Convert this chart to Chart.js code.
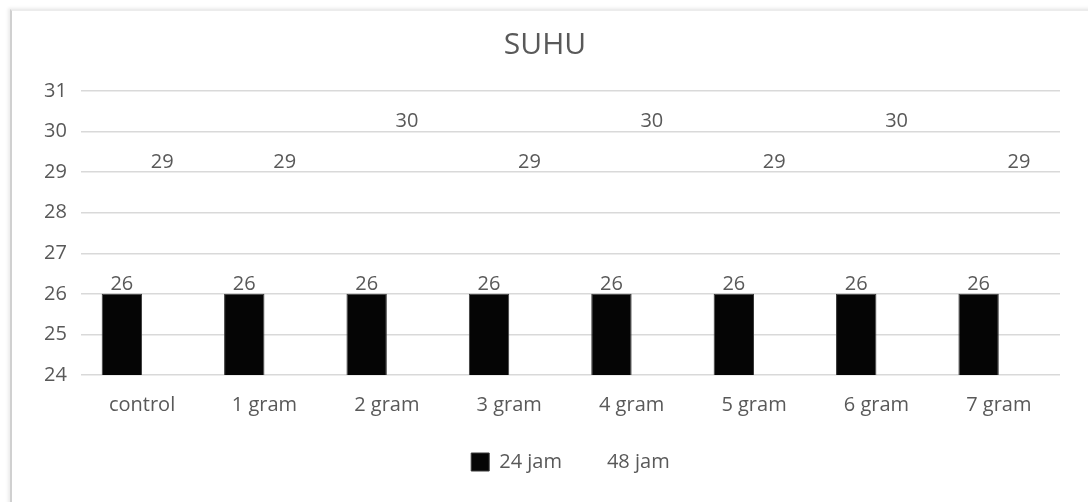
<!DOCTYPE html>
<html>
<head>
<meta charset="utf-8">
<script src="https://cdn.jsdelivr.net/npm/chart.js@4.4.1/dist/chart.umd.min.js"></script>
<style>
  html, body { margin: 0; padding: 0; background: #ffffff; }
  #frame {
    position: absolute; left: 10px; top: 9px; width: 1100px; height: 520px;
    border-left: 2px solid #d0d0d0; border-top: 2px solid #ececec;
    box-shadow: -2px -1px 3px rgba(0,0,0,0.08);
  }
  #wrap { position: absolute; left: 0; top: 0; width: 1088px; height: 502px; }
</style>
</head>
<body>
<div id="frame"></div>
<div id="wrap"><canvas id="c" width="1088" height="502"></canvas></div>
<script>
const categories = ['control', '1 gram', '2 gram', '3 gram', '4 gram', '5 gram', '6 gram', '7 gram'];
const jam24 = [26, 26, 26, 26, 26, 26, 26, 26];
const jam48 = [29, 29, 30, 29, 30, 29, 30, 29];
const yTicks = [24, 25, 26, 27, 28, 29, 30, 31];

const textColor = '#595959';
const fontFamily = "'Open Sans', 'Noto Sans', sans-serif";

// Writes each bar's value just above its top edge
const valueLabels = {
  id: 'valueLabels',
  afterDatasetsDraw(chart) {
    const ctx = chart.ctx;
    ctx.save();
    ctx.fillStyle = textColor;
    ctx.font = '20px ' + fontFamily;
    ctx.textAlign = 'center';
    ctx.textBaseline = 'bottom';
    chart.data.datasets.forEach((ds, i) => {
      chart.getDatasetMeta(i).data.forEach((bar, j) => {
        ctx.fillText(String(ds.data[j]), bar.x, bar.y);
      });
    });
    ctx.restore();
  }
};

// Centres the legend under the plot area instead of the whole canvas
const legendUnderPlot = {
  id: 'legendUnderPlot',
  afterLayout(chart) {
    const lg = chart.legend, area = chart.chartArea;
    if (!lg) return;
    const shift = (area.left + area.right) / 2 - (lg.left + lg.right) / 2;
    lg.left += shift;
    lg.right += shift;
  }
};

new Chart(document.getElementById('c'), {
  type: 'bar',
  data: {
    labels: categories,
    datasets: [
      { label: '24 jam', data: jam24, backgroundColor: '#050505', borderColor: '#3a3a3a', borderWidth: 1 },
      { label: '48 jam', data: jam48, backgroundColor: 'rgba(255,255,255,0)', borderWidth: 0 }
    ]
  },
  options: {
    responsive: false,
    animation: false,
    layout: { padding: { left: 30, right: 28, top: 27, bottom: 20 } },
    datasets: { bar: { categoryPercentage: 0.66, barPercentage: 1.0 } },
    scales: {
      x: {
        grid: { display: false, drawTicks: false },
        border: { display: false },
        ticks: { color: textColor, font: { size: 20, family: fontFamily }, padding: 18 }
      },
      y: {
        min: 24, max: 31,
        afterBuildTicks(axis) { axis.ticks = yTicks.map(v => ({ value: v })); },
        grid: { color: '#d9d9d9', lineWidth: 1.5, drawTicks: false },
        border: { display: false },
        ticks: { color: textColor, font: { size: 20, family: fontFamily }, padding: 14 }
      }
    },
    plugins: {
      title: {
        display: true, text: 'SUHU', color: textColor,
        font: { size: 30, weight: 'normal', family: fontFamily },
        padding: { top: 0, bottom: 28 }
      },
      legend: {
        position: 'bottom',
        labels: {
          color: textColor, font: { size: 20, family: fontFamily },
          boxWidth: 18, boxHeight: 18, padding: 17
        }
      },
      tooltip: { enabled: false }
    }
  },
  plugins: [valueLabels, legendUnderPlot]
});
</script>
</body>
</html>
